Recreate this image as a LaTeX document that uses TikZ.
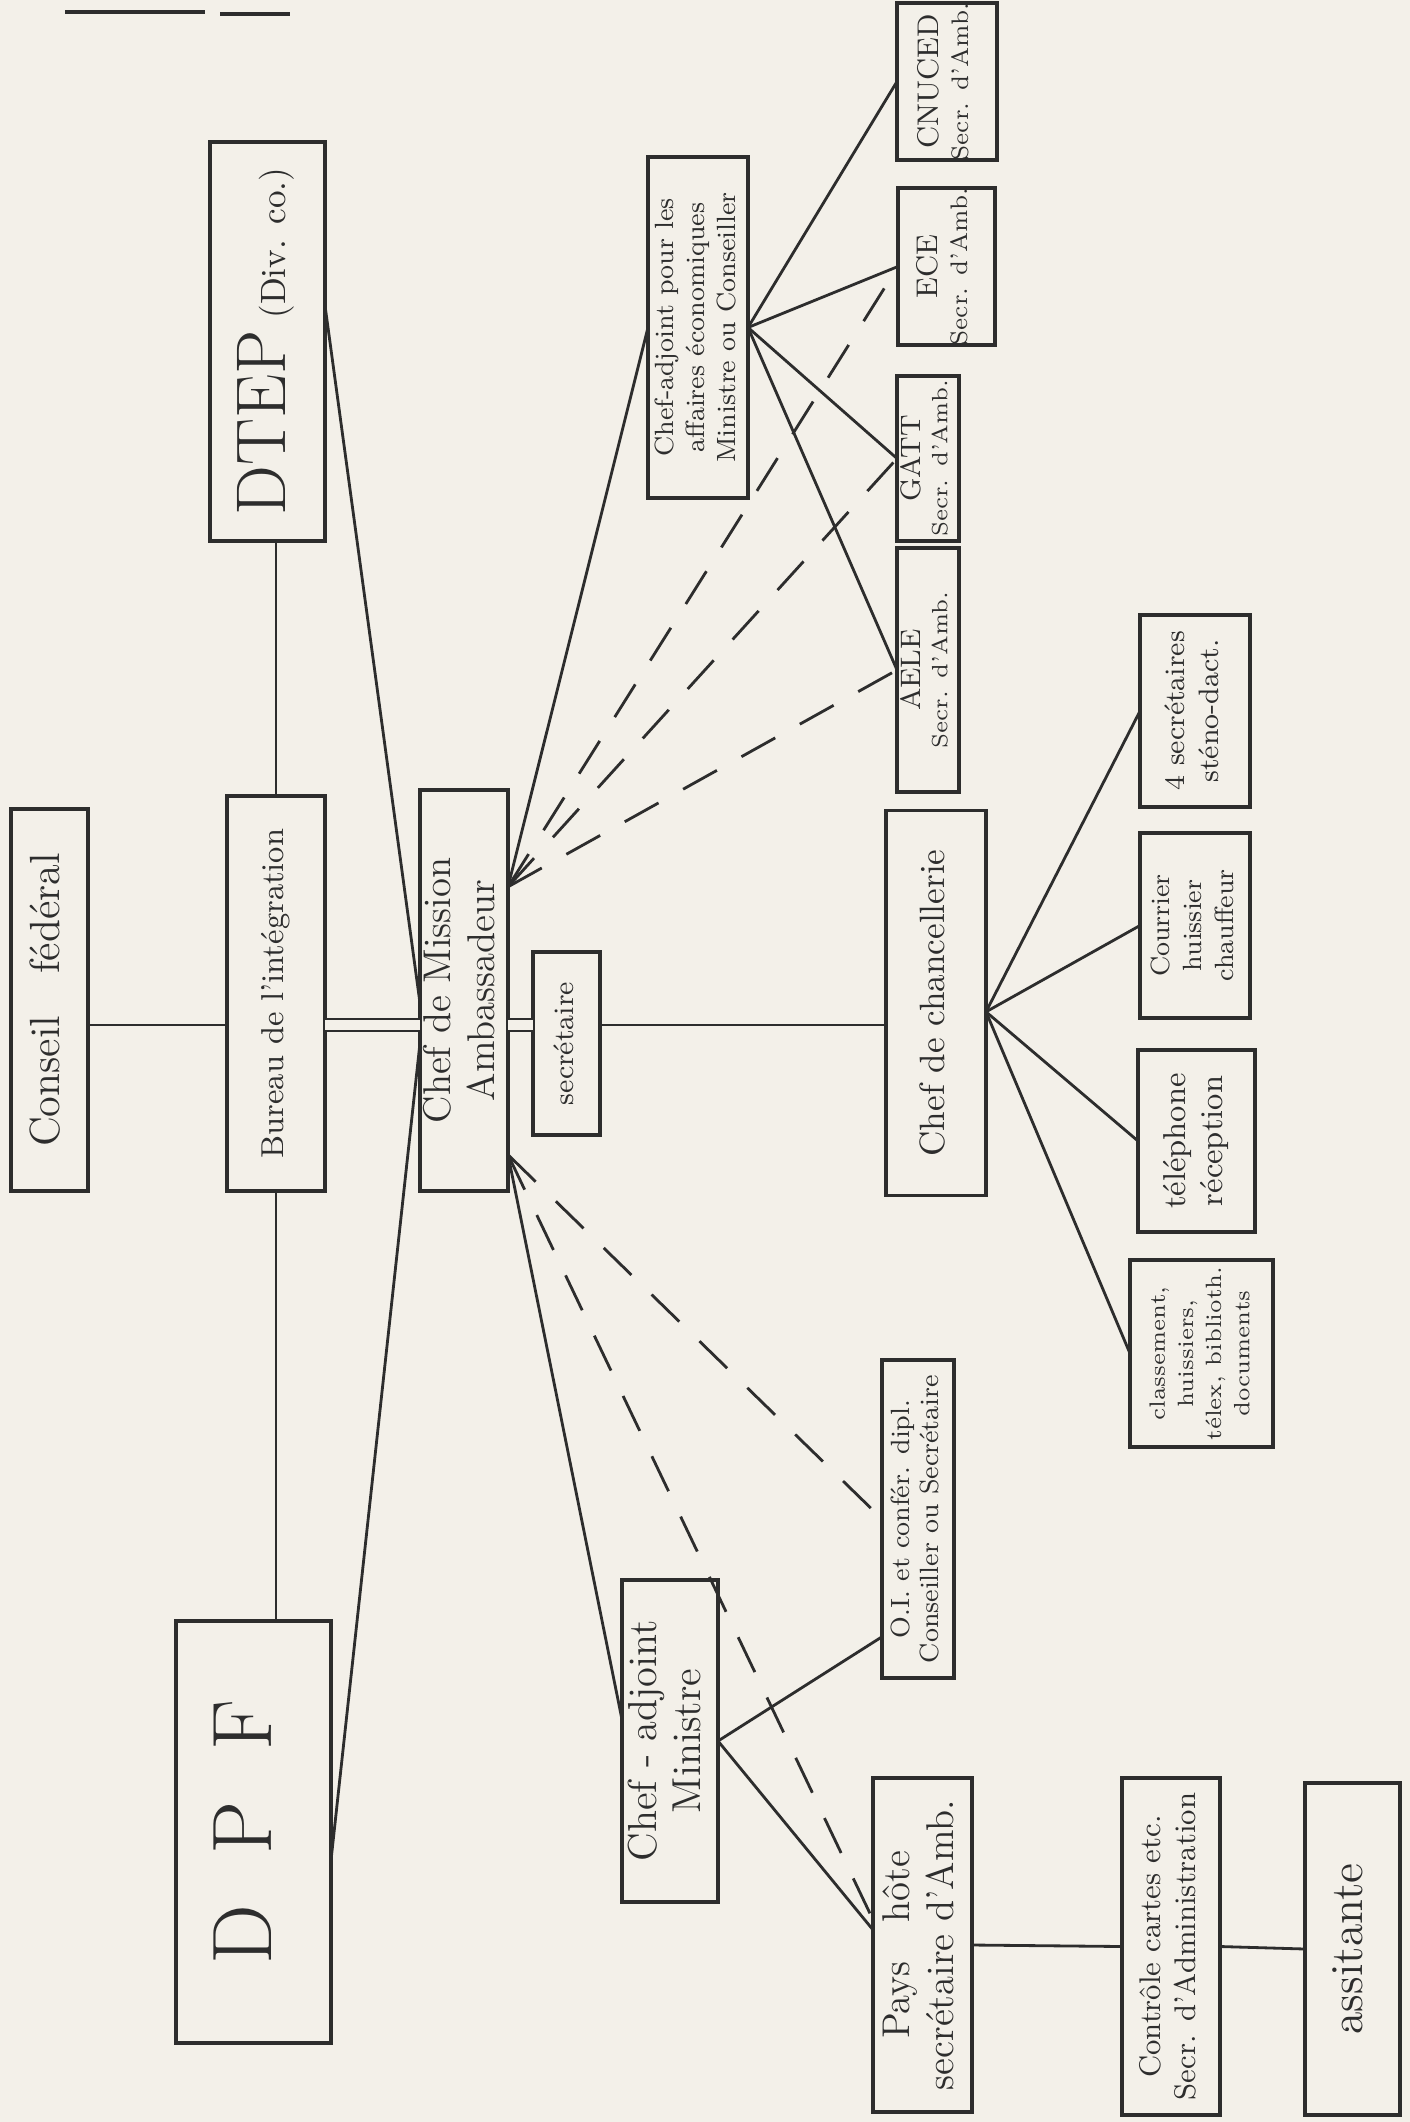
\documentclass[tikz,border=0pt]{standalone}
\usepackage{graphicx}
\usepackage{tikz}

\definecolor{paper}{RGB}{243,240,233}
\definecolor{ink}{RGB}{45,45,45}
\newcommand{\vtext}[1]{\rotatebox{90}{\begin{tabular}{@{}c@{}}#1\end{tabular}}}

\begin{document}
\begin{tikzpicture}[
        x=0.01cm, y=-0.01cm,
        wh/.style 2 args={minimum width=#1*0.01cm, minimum height=#2*0.01cm},
        box/.style={draw=ink, line width=1.1pt, inner sep=0pt, outer sep=0pt,
            text=ink},
        link/.style={draw=ink, line width=0.8pt},
        dashlink/.style={link, dash pattern=on 11pt off 8pt},
        twin/.style={draw=ink, line width=0.6pt, double=paper,
            double distance=3pt}
    ]
    \fill[paper] (0,0) rectangle (1410,2122);
    \useasboundingbox (0,0) rectangle (1410,2122);

    % cut-off heading
    \draw[link, line width=1pt] (65,12) -- (205,12);
    \draw[link, line width=1pt] (220,14) -- (290,14);

    % main row
    \node[box, wh={77}{382}, font=\fontsize{12}{14}\selectfont] (conseil) at (49.5,1000)
        {\vtext{Conseil\quad f\'ed\'eral}};
    \node[box, wh={98}{395}, font=\fontsize{9}{11}\selectfont] (bureau) at (276,993.5)
        {\vtext{Bureau de l'int\'egration}};
    \node[box, wh={115}{399}] (dtep) at (267.5,341.5)
        {\vtext{{\fontsize{20}{22}\selectfont DTEP}\ {\fontsize{10}{12}\selectfont(Div. co.)}}};
    \node[box, wh={155}{422}, font=\fontsize{24}{26}\selectfont] (dpf) at (253.5,1832)
        {\vtext{D\hspace{0.6em}P\hspace{0.6em}F}};
    \node[box, wh={88}{401}, font=\fontsize{11}{12.5}\selectfont] (mission) at (464,990.5)
        {\vtext{Chef de Mission\\Ambassadeur}};
    \node[box, wh={67}{183}, font=\fontsize{8}{10}\selectfont] (secr) at (566.5,1043.5)
        {\vtext{secr\'etaire}};
    \node[box, wh={100}{385}, font=\fontsize{10}{12}\selectfont] (chancel) at (936,1003)
        {\vtext{Chef de chancellerie}};

    % economic affairs
    \node[box, wh={100}{341}, font=\fontsize{7.5}{8.8}\selectfont] (adjeco) at (698,327.5)
        {\vtext{Chef-adjoint pour les\\affaires \'economiques\\Ministre ou Conseiller}};
    \node[box, wh={62}{244}, font=\fontsize{6.3}{7.6}\selectfont] (aele) at (928,670)
        {\vtext{{\fontsize{8}{8.5}\selectfont AELE}\\Secr. d'Amb.}};
    \node[box, wh={62}{165}, font=\fontsize{6.3}{7.6}\selectfont] (gatt) at (928,458.5)
        {\vtext{{\fontsize{8}{8.5}\selectfont GATT}\\Secr. d'Amb.}};
    \node[box, wh={97}{153}, font=\fontsize{6.8}{8.5}\selectfont] (ece) at (946.5,266.5)
        {\vtext{{\fontsize{8.5}{9}\selectfont ECE}\\Secr. d'Amb.}};
    \node[box, wh={100}{149}, font=\fontsize{6.8}{8.5}\selectfont] (cnuced) at (947,81.5)
        {\vtext{{\fontsize{8.5}{9}\selectfont CNUCED}\\Secr. d'Amb.}};

    % chancellery
    \node[box, wh={110}{192}, font=\fontsize{8}{9.5}\selectfont] (steno) at (1195,711)
        {\vtext{4 secr\'etaires\\st\'eno-dact.}};
    \node[box, wh={110}{185}, font=\fontsize{7.5}{9}\selectfont] (courrier) at (1195,925.5)
        {\vtext{Courrier\\huissier\\chauffeur}};
    \node[box, wh={117}{182}, font=\fontsize{9}{10.5}\selectfont] (tel) at (1196.5,1141)
        {\vtext{t\'el\'ephone\\r\'eception}};
    \node[box, wh={143}{187}, font=\fontsize{6.3}{8}\selectfont] (classe) at (1201.5,1353.5)
        {\vtext{classement,\\huissiers,\\t\'elex, biblioth.\\documents}};

    % deputy branch
    \node[box, wh={96}{322}, font=\fontsize{11.5}{12.5}\selectfont] (adjmin) at (670,1741)
        {\vtext{Chef - adjoint\\Ministre}};
    \node[box, wh={72}{318}, font=\fontsize{7.5}{8.5}\selectfont] (oi) at (918,1519)
        {\vtext{O.I. et conf\'er. dipl.\\Conseiller ou Secr\'etaire}};
    \node[box, wh={99}{334}, font=\fontsize{11}{12.5}\selectfont] (pays) at (922.5,1945)
        {\vtext{Pays\quad h\^ote\\secr\'etaire d'Amb.}};
    \node[box, wh={98}{337}, font=\fontsize{8.5}{10}\selectfont] (controle) at (1171,1946.5)
        {\vtext{Contr\^ole cartes etc.\\Secr. d'Administration}};
    \node[box, wh={95}{332}, font=\fontsize{13}{14}\selectfont] (assist) at (1352.5,1949)
        {\vtext{assitante}};

    % connectors
    \coordinate (row) at (0,1025);
    \draw[link] (conseil.east |- row) -- (bureau.west |- row);
    \draw[twin] (bureau.east |- row) -- (mission.west |- row);
    \draw[twin] (mission.east |- row) -- (secr.west |- row);
    \draw[link] (secr.east |- row) -- (chancel.west |- row);
    \draw[link] (bureau.north) -- (bureau.north |- dtep.south);
    \draw[link] (bureau.south) -- (bureau.south |- dpf.north);
    \draw[link] (mission.196) -- (dtep.32);
    \draw[link] (mission.230) -- (dpf.-20);

    \draw[link] (mission.67) -- (adjeco.west);
    \draw[dashlink] (mission.67) -- (aele.west);
    \draw[dashlink] (mission.67) -- (gatt.west);
    \draw[dashlink] (mission.67) -- (ece.west);
    \foreach \n in {aele, gatt, ece, cnuced}
        \draw[link] (adjeco.east) -- (\n.west);

    \foreach \n in {steno, courrier, tel, classe}
        \draw[link] (chancel.-10) -- (\n.west);

    \draw[link] (mission.-75) -- (adjmin.156);
    \draw[dashlink] (mission.-75) -- (oi.west);
    \draw[dashlink] (mission.-75) -- (pays.153);
    \draw[link] (adjmin.east) -- (oi.253);
    \draw[link] (adjmin.east) -- (pays.163);
    \draw[link] (pays.east) -- (controle.west);
    \draw[link] (controle.east) -- (assist.west);
\end{tikzpicture}
\end{document}
